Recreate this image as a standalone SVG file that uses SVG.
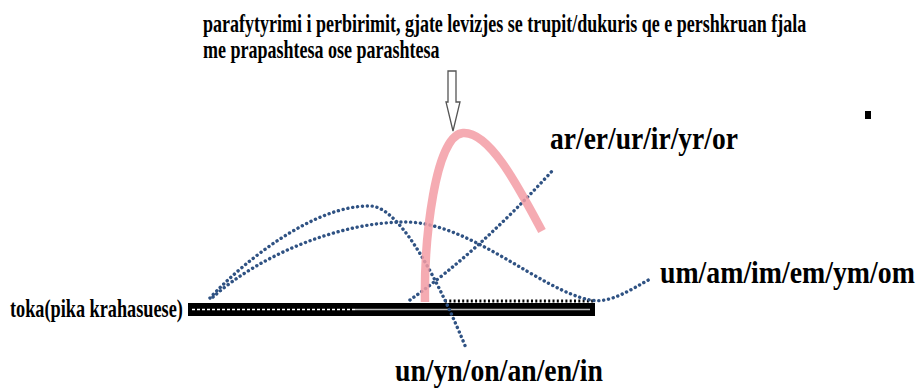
<svg xmlns="http://www.w3.org/2000/svg" width="921" height="389" viewBox="0 0 921 389">
<style>
  .t { font-family: "Liberation Serif", "Times New Roman", serif; font-weight: bold; fill: #000; }
  .dot { fill: none; stroke: #2f5283; stroke-width: 3.4; stroke-linecap: round; stroke-dasharray: 0.1 4.8; }
  .pink { fill: none; stroke: #f39ca4; stroke-width: 8.5; stroke-linecap: butt; opacity: 0.85; }
</style>
<rect width="921" height="389" fill="#fff"/>
<g id="title">
  <text class="t" transform="scale(0.7206,1)" x="281.7" y="32" font-size="25">parafytyrimi i perbirimit, gjate levizjes se trupit/dukuris qe e pershkruan fjala</text>
  <text class="t" transform="scale(0.7206,1)" x="281.7" y="58" font-size="25">me prapashtesa ose parashtesa</text>
</g>
<g id="arrow">
  <polygon points="448,71 456,71 456,102 460,102 453,131 446,102 448,102" fill="#fff" stroke="#555" stroke-width="1.3" stroke-linejoin="miter"/>
</g>
<g id="ground">
  <rect x="188" y="303" width="407" height="13" fill="#000"/>
  <line x1="192" y1="309.5" x2="355" y2="309.5" stroke="#fff" stroke-width="1.5" stroke-dasharray="3 2"/>
  <line x1="355" y1="309.5" x2="590" y2="309.5" stroke="#bbb" stroke-width="1.5"/>
  <line x1="445" y1="301" x2="594" y2="301" stroke="#000" stroke-width="3" stroke-dasharray="2 2.3"/>
</g>
<g id="connectors">
  <path class="dot" d="M210,298 C245,260 315,205 370,206 C395,206 430,260 466,348"/>
  <path class="dot" d="M213,297 C260,255 340,222 405,222 C470,222 540,290 590,300 C610,304 630,290 652,278"/>
  <path class="dot" d="M410,300 Q480,250 553,170"/>
  <path class="pink" d="M425,302 C424,240 435,135 463,133 C490,131 520,190 542,231"/>
</g>
<g id="label-toka">
  <text class="t" transform="scale(0.7305,1)" x="13.7" y="317" font-size="25">toka(pika krahasuese)</text>
</g>
<g id="label-ar">
  <text class="t" transform="scale(0.8876,1)" x="619.7" y="149" font-size="31">ar/er/ur/ir/yr/or</text>
</g>
<g id="label-um">
  <text class="t" transform="scale(0.869,1)" x="759.5" y="283" font-size="32">um/am/im/em/ym/om</text>
</g>
<g id="label-un">
  <text class="t" transform="scale(0.866,1)" x="456.1" y="381" font-size="32">un/yn/on/an/en/in</text>
</g>
<g id="mark">
  <rect x="865" y="111" width="6" height="8" fill="#000"/>
</g>
</svg>
